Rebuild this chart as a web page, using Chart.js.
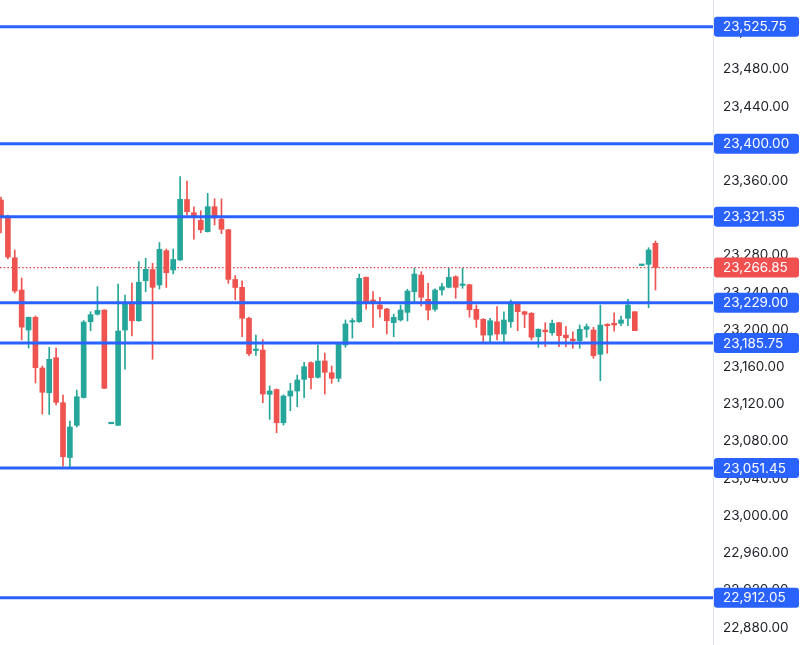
<!DOCTYPE html>
<html>
<head>
<meta charset="utf-8">
<script src="https://cdn.jsdelivr.net/npm/chart.js@4/dist/chart.umd.min.js"></script>
<style>
  html, body { margin: 0; padding: 0; background: #ffffff; }
  #wrap { width: 800px; height: 645px; position: relative; }
</style>
</head>
<body>
<div id="wrap"><canvas id="c"></canvas></div>
<script>
// ---- Data ----
const openPrices = [
23339.4, 23321.2, 23277.4, 23242.7, 23199.7, 23213.4, 23158.9, 23132.3, 23169.9, 23121.6,
23062.7, 23097.3, 23127.2, 23208.6, 23216.7, 23221.2, 23099.0, 23097.3, 23199.7, 23229.3,
23209.7, 23252.7, 23264.7, 23248.1, 23285.0, 23264.2, 23275.0, 23340.0, 23325.8, 23317.6,
23305.4, 23332.2, 23318.8, 23307.5, 23254.0, 23245.6, 23212.3, 23177.7, 23178.2, 23130.6,
23135.8, 23100.1, 23128.8, 23134.2, 23146.7, 23164.6, 23148.9, 23166.4, 23153.8, 23147.8,
23183.6, 23208.3, 23208.6, 23256.4, 23232.0, 23226.6, 23222.3, 23207.6, 23210.5, 23218.7,
23240.9, 23258.8, 23232.7, 23222.0, 23242.7, 23245.6, 23257.0, 23247.6, 23248.4, 23222.0,
23211.2, 23194.3, 23208.6, 23195.4, 23208.6, 23227.7, 23219.4, 23217.7, 23192.5, 23199.7,
23196.8, 23207.6, 23194.3, 23190.0, 23188.2, 23200.5, 23199.7, 23173.6, 23205.8, 23206.9,
23206.9, 23212.3, 23219.4, 23269.1, 23270.3, 23292.9
];
const closePrices = [
23321.5, 23278.2, 23241.6, 23202.9, 23213.4, 23159.2, 23132.8, 23168.2, 23122.0, 23063.5,
23095.5, 23128.0, 23208.3, 23216.2, 23220.9, 23137.1, 23100.0, 23198.6, 23227.7, 23209.7,
23251.1, 23265.0, 23245.6, 23286.5, 23261.3, 23275.5, 23340.2, 23326.9, 23321.5, 23307.5,
23332.2, 23320.1, 23308.0, 23254.2, 23245.4, 23212.3, 23174.2, 23178.7, 23130.9, 23134.2,
23100.1, 23128.8, 23134.2, 23146.0, 23160.3, 23148.5, 23166.4, 23154.3, 23147.8, 23184.7,
23206.2, 23209.4, 23255.3, 23230.1, 23229.8, 23222.3, 23209.7, 23213.4, 23221.2, 23241.6,
23259.9, 23234.9, 23221.2, 23242.7, 23246.3, 23256.4, 23245.6, 23248.8, 23221.5, 23211.2,
23194.3, 23209.7, 23195.4, 23210.5, 23227.7, 23219.4, 23216.6, 23191.9, 23200.5, 23197.9,
23206.9, 23193.6, 23191.4, 23188.2, 23200.5, 23203.3, 23172.1, 23205.1, 23204.3, 23205.1,
23210.5, 23226.6, 23199.0, 23270.1, 23285.7, 23266.85
];
const highPrices = [
23342.7, 23323.3, 23285.7, 23255.6, 23213.7, 23214.8, 23161.0, 23181.1, 23180.4, 23129.9,
23101.9, 23135.2, 23209.9, 23219.4, 23246.3, 23221.5, 23100.0, 23249.2, 23237.3, 23250.2,
23273.3, 23276.8, 23271.4, 23293.8, 23286.8, 23286.8, 23364.5, 23359.9, 23332.2, 23327.9,
23346.6, 23340.8, 23340.7, 23308.0, 23258.3, 23252.7, 23213.5, 23194.3, 23189.5, 23139.5,
23136.5, 23130.0, 23142.4, 23151.3, 23165.0, 23165.5, 23183.6, 23175.0, 23161.0, 23186.1,
23210.5, 23212.1, 23259.9, 23257.0, 23240.9, 23234.9, 23223.0, 23216.9, 23226.6, 23243.5,
23266.0, 23262.4, 23249.9, 23244.0, 23249.9, 23266.0, 23258.0, 23266.0, 23249.0, 23226.6,
23212.0, 23212.3, 23224.8, 23219.4, 23232.0, 23228.5, 23220.0, 23218.5, 23201.0, 23207.6,
23210.5, 23208.0, 23203.3, 23197.9, 23205.1, 23206.2, 23202.6, 23226.6, 23206.5, 23218.3,
23214.8, 23232.7, 23219.4, 23270.1, 23288.2, 23295.4
];
const lowPrices = [
23304.0, 23276.0, 23239.5, 23189.0, 23180.4, 23142.8, 23109.4, 23108.9, 23119.1, 23053.5,
23052.1, 23095.5, 23126.6, 23198.9, 23215.8, 23136.8, 23099.0, 23097.0, 23157.6, 23193.3,
23209.0, 23240.9, 23168.3, 23243.8, 23245.4, 23259.9, 23274.5, 23323.3, 23297.3, 23304.3,
23305.0, 23312.6, 23303.2, 23249.9, 23232.3, 23192.5, 23172.1, 23172.3, 23121.6, 23103.7,
23089.3, 23097.6, 23113.0, 23117.3, 23127.0, 23136.3, 23148.0, 23130.9, 23142.4, 23144.1,
23181.1, 23191.1, 23208.0, 23222.0, 23202.6, 23213.4, 23195.4, 23192.5, 23209.4, 23209.4,
23228.4, 23225.5, 23210.5, 23220.1, 23237.3, 23245.0, 23233.8, 23244.5, 23213.4, 23202.6,
23185.4, 23187.1, 23189.0, 23187.1, 23202.6, 23199.0, 23202.2, 23189.0, 23181.1, 23181.8,
23194.3, 23181.8, 23181.8, 23180.0, 23180.0, 23191.9, 23169.3, 23145.2, 23174.7, 23198.6,
23204.3, 23204.3, 23199.0, 23269.1, 23223.7, 23242.7
];
const levelPrices = [23525.75, 23400.00, 23321.35, 23229.00, 23185.75, 23051.45, 22912.05];
const lastPrice = 23266.85;

// ---- Styling / layout constants ----
const UP = '#26a69a', DOWN = '#ef5350', BLUE = '#2962ff', RED_TAG = '#f05050';
const X_MIN = -0.145, X_MAX = 103.35;
const Y_MIN = 22861.2, Y_MAX = 23554.4;
const FONT = 'Inter, "Noto Sans", sans-serif';

const fmt = v => v.toLocaleString('en-US', { minimumFractionDigits: 2, maximumFractionDigits: 2 });

const idx = openPrices.map((_, i) => i);
const colors = idx.map(i => closePrices[i] >= openPrices[i] ? UP : DOWN);

const datasets = [];
levelPrices.forEach(v => {
  datasets.push({
    type: 'line', order: 0,
    data: [{ x: X_MIN, y: v }, { x: X_MAX, y: v }],
    borderColor: BLUE, borderWidth: 3, pointRadius: 0, fill: false
  });
});
datasets.push({
  type: 'bar', order: 1, grouped: false,
  data: idx.map(i => ({ x: i, y: [openPrices[i], closePrices[i]] })),
  backgroundColor: colors, borderWidth: 0, barThickness: 5, minBarLength: 1.5
});
datasets.push({
  type: 'bar', order: 2, grouped: false,
  data: idx.map(i => ({ x: i, y: [lowPrices[i], highPrices[i]] })),
  backgroundColor: colors, borderWidth: 0, barThickness: 1
});
datasets.push({
  type: 'line', order: 5,
  data: [{ x: X_MIN, y: lastPrice }, { x: X_MAX, y: lastPrice }],
  borderColor: '#d94040', borderWidth: 1.2, borderDash: [1.5, 2.2], pointRadius: 0, fill: false
});

const tagPlugin = {
  id: 'priceTags',
  afterDraw(chart) {
    const ctx = chart.ctx, ys = chart.scales.y, left = chart.chartArea.right + 1;
    const draw = (v, col) => {
      const py = ys.getPixelForValue(v);
      ctx.save();
      ctx.fillStyle = col;
      ctx.beginPath();
      ctx.roundRect(left, py - 10, 85, 20, 3);
      ctx.fill();
      ctx.fillStyle = '#ffffff';
      ctx.font = '13.5px ' + FONT;
      ctx.textBaseline = 'middle';
      ctx.textAlign = 'left';
      ctx.fillText(fmt(v), left + 9, py + 0.5);
      ctx.restore();
    };
    levelPrices.forEach(v => draw(v, BLUE));
    draw(lastPrice, RED_TAG);
  }
};

new Chart(document.getElementById('c'), {
  type: 'bar',
  data: { datasets },
  options: {
    responsive: true, maintainAspectRatio: false, animation: false,
    layout: { padding: 0 },
    events: [],
    plugins: { legend: { display: false }, tooltip: { enabled: false } },
    scales: {
      x: {
        type: 'linear', min: X_MIN, max: X_MAX, display: false,
        offset: false, grid: { display: false }
      },
      y: {
        position: 'right', min: Y_MIN, max: Y_MAX,
        grid: { display: false, drawTicks: false },
        border: { display: true, color: '#e0e3eb', width: 1 },
        ticks: {
          stepSize: 40, includeBounds: false, autoSkip: false,
          padding: 10, color: '#1c1f26',
          font: { family: FONT, size: 13.5 },
          callback: v => fmt(v)
        },
        afterFit: s => { s.width = 87; s.paddingTop = 0; s.paddingBottom = 0; }
      }
    }
  },
  plugins: [tagPlugin]
});
</script>
</body>
</html>
